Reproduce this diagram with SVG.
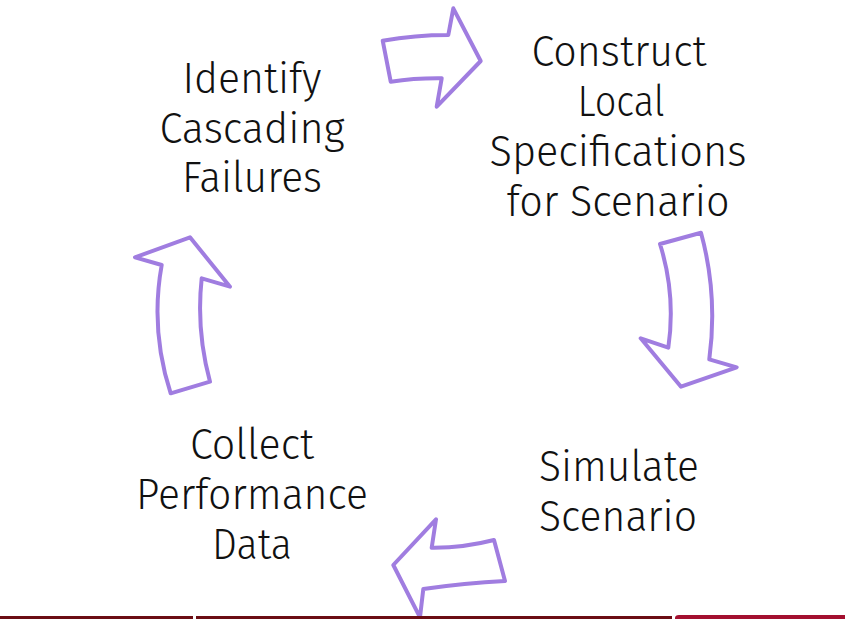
<svg xmlns="http://www.w3.org/2000/svg" width="845" height="619" viewBox="0 0 845 619">
<style>
.lbl{font-family:"Fira Sans Light","Lato","Open Sans","Liberation Sans",sans-serif;font-weight:300;font-size:43px;fill:#111;text-anchor:middle}
.arr{fill:#fff;stroke:#a07de0;stroke-width:4;stroke-linejoin:round}
</style>
<rect width="845" height="619" fill="#fff"/>
<g id="connectors">
<path class="arr" d="M382.7,40.7 Q415,35 448.3,35 L453.3,8.3 L480.7,61 L436.7,106.7 L441.7,78.3 Q415,78 390.7,81.7 Z"/>
<path class="arr" d="M660,244 L701,232.7 Q718,295 709.3,359.3 L736.7,367.3 L681,386.7 L640.7,338.3 L668.3,347.7 Q676,295 660,244 Z"/>
<path class="arr" d="M494,540 L505,581 Q465,583 423.3,589 L420,617.3 L393.3,565 L436,519.3 L431.7,547.7 Q463,548 494,540 Z"/>
<path class="arr" d="M170.7,393.3 L210,381.7 Q196,330 201.7,278.3 L230,286.7 L190,237.3 L135,257.3 L161.7,265 Q150,330 170.7,393.3 Z"/>
</g>
<g id="identify">
<text class="lbl" x="252" y="93" textLength="139" lengthAdjust="spacingAndGlyphs">Identify</text>
<text class="lbl" x="252" y="143" textLength="185" lengthAdjust="spacingAndGlyphs">Cascading</text>
<text class="lbl" x="252" y="192" textLength="140" lengthAdjust="spacingAndGlyphs">Failures</text>
</g>
<g id="construct">
<text class="lbl" x="619" y="66" textLength="175" lengthAdjust="spacingAndGlyphs">Construct</text>
<text class="lbl" x="621" y="116" textLength="87" lengthAdjust="spacingAndGlyphs">Local</text>
<text class="lbl" x="618" y="166" textLength="257" lengthAdjust="spacingAndGlyphs">Specifications</text>
<text class="lbl" x="618" y="216" textLength="223" lengthAdjust="spacingAndGlyphs">for Scenario</text>
</g>
<g id="simulate">
<text class="lbl" x="619" y="481" textLength="160" lengthAdjust="spacingAndGlyphs">Simulate</text>
<text class="lbl" x="618" y="531" textLength="158" lengthAdjust="spacingAndGlyphs">Scenario</text>
</g>
<g id="collect">
<text class="lbl" x="252" y="459" textLength="124" lengthAdjust="spacingAndGlyphs">Collect</text>
<text class="lbl" x="252" y="509" textLength="232" lengthAdjust="spacingAndGlyphs">Performance</text>
<text class="lbl" x="252" y="559" textLength="80" lengthAdjust="spacingAndGlyphs">Data</text>
</g>
<g id="footer">
<rect x="0" y="616" width="193" height="3" fill="#6b0d14"/>
<rect x="196" y="616" width="476" height="3" fill="#6b0d14"/>
<path d="M675,619 L675,618 Q675,615 679,615 L845,615 L845,619 Z" fill="#a30f2f"/>
</g>
</svg>
